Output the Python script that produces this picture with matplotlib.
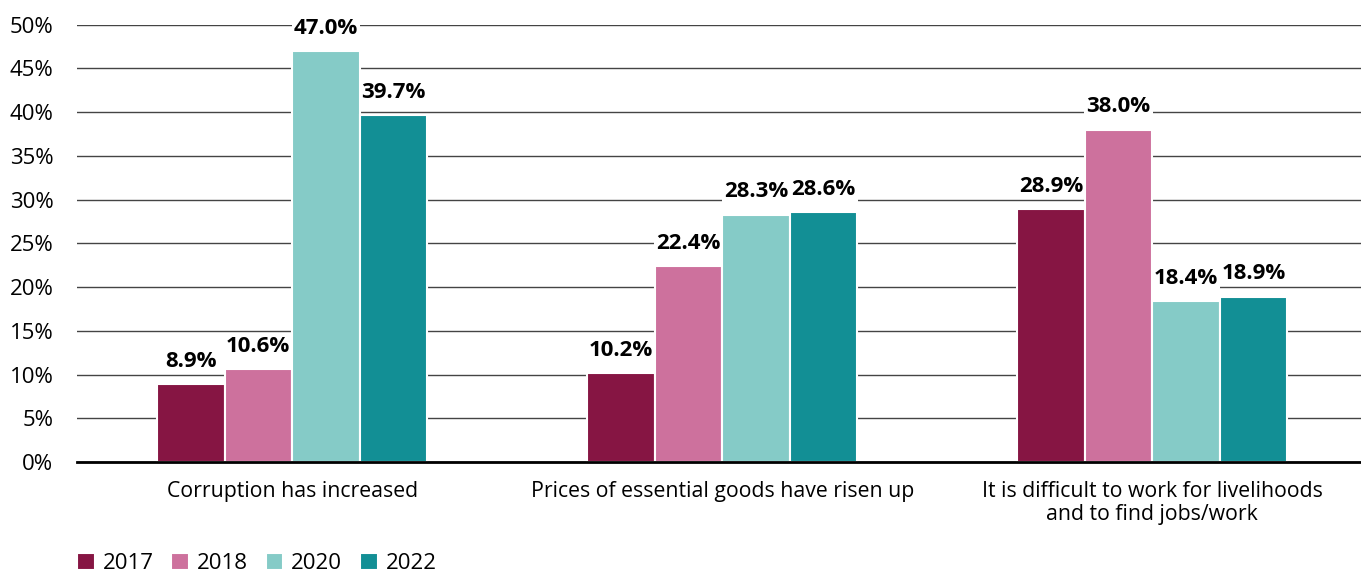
import matplotlib
matplotlib.use("Agg")
import matplotlib.pyplot as plt
import numpy as np

plt.rcParams['font.family'] = ['Open Sans', 'DejaVu Sans']

# data
categories = ["Corruption has increased",
              "Prices of essential goods have risen up",
              "It is difficult to work for livelihoods\nand to find jobs/work"]
years = ["2017", "2018", "2020", "2022"]
values = {
    "2017": [8.9, 10.2, 28.9],
    "2018": [10.6, 22.4, 38.0],
    "2020": [47.0, 28.3, 18.4],
    "2022": [39.7, 28.6, 18.9],
}
colors = ["#861543", "#cd719d", "#85cbc7", "#128f95"]

fig = plt.figure(figsize=(13.61, 5.76), dpi=100)
ax = fig.add_axes([0.0566, 0.198, 0.948, 0.759])

x = np.arange(len(categories))
w = 0.157
for i, yr in enumerate(years):
	pos = x + (i - 1.5) * w
	bars = ax.bar(pos, values[yr], width=w, color=colors[i], edgecolor='white',
	              linewidth=1.5, label=yr, zorder=2)
	for b, v in zip(bars, values[yr]):
		ax.text(b.get_x() + b.get_width() / 2, v + 1.4, f"{v:.1f}%",
		        ha='center', va='bottom', fontsize=16, fontweight='bold',
		        bbox=dict(facecolor='white', edgecolor='none', pad=1.5), zorder=3)

ax.set_xlim(-0.5, 2.5)
ax.set_ylim(0, 50)
ax.set_yticks(np.arange(0, 51, 5))
ax.set_yticklabels([f"{t}%" for t in range(0, 51, 5)])
ax.yaxis.grid(True, color='#444444', linewidth=1.0, zorder=0)
ax.set_axisbelow(True)
ax.tick_params(axis='y', length=0, labelsize=16, pad=17)
ax.tick_params(axis='x', length=0, labelsize=15.3, pad=14)
ax.set_xticks(x)
ax.set_xticklabels(categories, linespacing=1.1)

for s in ['top', 'right', 'left']:
	ax.spines[s].set_visible(False)
ax.spines['bottom'].set_linewidth(2)
ax.spines['bottom'].set_color('black')

ax.legend(loc='center left', bbox_to_anchor=(0.0, -0.233), ncol=4, frameon=False,
          fontsize=16, handlelength=0.8, handleheight=0.8, handletextpad=0.35,
          columnspacing=0.8, borderaxespad=0, borderpad=0)

fig.savefig("out.png", dpi=100)
